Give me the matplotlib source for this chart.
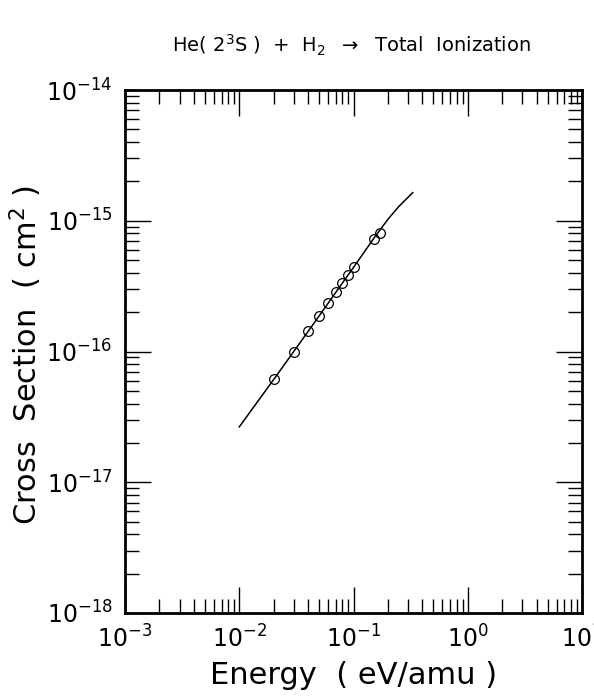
import matplotlib
matplotlib.use('Agg')
import matplotlib.pyplot as plt
from matplotlib.ticker import FixedLocator, NullFormatter

# measured points (circles)
energy = [0.02, 0.03, 0.04, 0.05, 0.06, 0.07, 0.08, 0.09, 0.10, 0.15, 0.17]
sigma = [6.15e-17, 1.0e-16, 1.44e-16, 1.88e-16, 2.36e-16, 2.84e-16,
         3.34e-16, 3.87e-16, 4.4e-16, 7.3e-16, 8.0e-16]

# fitted curve
fit_energy = [0.01, 0.02, 0.03, 0.05, 0.10, 0.15, 0.20, 0.25, 0.33]
fit_sigma = [2.65e-17, 6.1e-17, 1.0e-16, 1.87e-16, 4.4e-16, 7.3e-16,
             1.025e-15, 1.29e-15, 1.64e-15]

x_major = [1e-3, 1e-2, 1e-1, 1e0, 1e1]
y_major = [1e-18, 1e-17, 1e-16, 1e-15, 1e-14]

plt.rcParams['mathtext.default'] = 'regular'

fig = plt.figure(figsize=(5.94, 6.96), dpi=100)
ax = fig.add_axes([125 / 594, 1 - 613 / 696, 457 / 594, 523 / 696])

ax.plot(fit_energy, fit_sigma, color='black', lw=1.1)
ax.plot(energy, sigma, 'o', mfc='none', mec='black', ms=7, mew=0.9)

ax.set_xscale('log')
ax.set_yscale('log')
ax.set_xlim(1e-3, 10)
ax.set_ylim(1e-18, 1e-14)

for s in ax.spines.values():
    s.set_linewidth(2)

x_minor = [m * d for d in x_major[:-1] for m in range(2, 10)]
y_minor = [m * d for d in y_major[:-1] for m in range(2, 10)]
ax.xaxis.set_major_locator(FixedLocator(x_major))
ax.yaxis.set_major_locator(FixedLocator(y_major))
ax.xaxis.set_minor_locator(FixedLocator(x_minor))
ax.yaxis.set_minor_locator(FixedLocator(y_minor))
ax.xaxis.set_minor_formatter(NullFormatter())
ax.yaxis.set_minor_formatter(NullFormatter())
ax.set_xticklabels(['$10^{-3}$', '$10^{-2}$', '$10^{-1}$', '$10^{0}$', '$10^{1}$'])
ax.set_yticklabels(['$10^{-18}$', '$10^{-17}$', '$10^{-16}$', '$10^{-15}$', '$10^{-14}$'])

ax.tick_params(which='both', direction='in', top=True, right=True, width=1)
ax.tick_params(which='major', length=19, labelsize=17, pad=9)
ax.tick_params(which='minor', length=10)

ax.set_xlabel('Energy  ( eV/amu )', fontsize=22, labelpad=6)
fig.text(26 / 594, 1 - 355 / 696, 'Cross  Section  ( cm$^2$ )', rotation=90,
         ha='center', va='center', fontsize=22)
fig.text(351 / 594, 1 - 45 / 696, r'He( 2$^3$S )  +  H$_2$  $\rightarrow$  Total  Ionization',
         ha='center', va='center', fontsize=14)

fig.savefig('out.png', dpi=100)
